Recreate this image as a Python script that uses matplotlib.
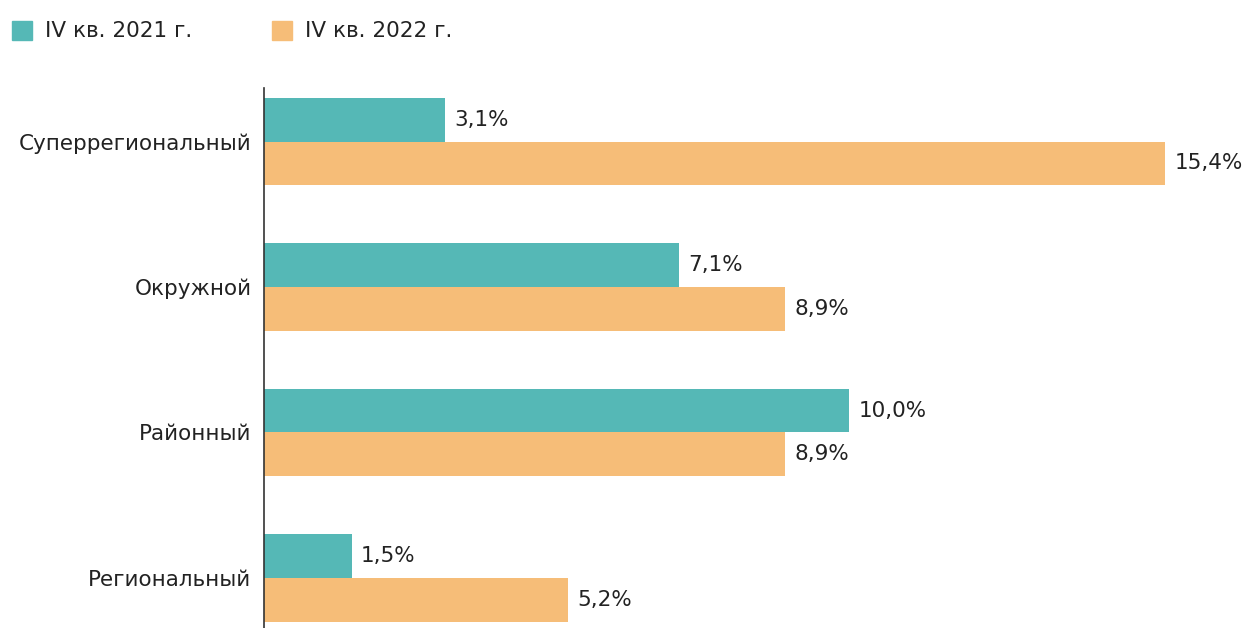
import matplotlib.pyplot as plt
import numpy as np

plt.rcParams['font.family'] = ['DejaVu Sans']

categories = ['Суперрегиональный', 'Окружной', 'Районный', 'Региональный']
q4_2021 = [3.1, 7.1, 10.0, 1.5]
q4_2022 = [15.4, 8.9, 8.9, 5.2]
series_names = ['IV кв. 2021 г.', 'IV кв. 2022 г.']

teal = '#55b8b6'
orange = '#f6bd78'
W, H = 1245, 628
FS = 15.5

fig = plt.figure(figsize=(W / 100, H / 100), dpi=100)
ax = fig.add_axes([264 / W, 0, 1 - 264 / W, (H - 88) / H])

y = np.arange(len(categories))
h = 0.3
ax.barh(y - h / 2, q4_2021, height=h, color=teal)
ax.barh(y + h / 2, q4_2022, height=h, color=orange)

def fmt(v):
    return f'{v:.1f}'.replace('.', ',') + '%'

for yi, v in zip(y, q4_2021):
    ax.text(v + 0.16, yi - h / 2, fmt(v), va='center', ha='left', fontsize=FS, color='#222222')
for yi, v in zip(y, q4_2022):
    ax.text(v + 0.16, yi + h / 2, fmt(v), va='center', ha='left', fontsize=FS, color='#222222')

ax.set_xlim(0, (W - 264) / 58.5)
ax.set_ylim(3.344, -0.368)
ax.set_yticks(y)
ax.set_yticklabels(categories, fontsize=FS, color='#222222')
ax.tick_params(axis='y', length=0, pad=9)
ax.set_xticks([])
for s in ['top', 'right', 'bottom']:
    ax.spines[s].set_visible(False)
ax.spines['left'].set_color('#333333')
ax.spines['left'].set_linewidth(1.2)

# legend drawn by hand at the top left
for x0, name, c in [(12, series_names[0], teal), (272, series_names[1], orange)]:
    fig.patches.append(plt.Rectangle((x0 / W, 1 - 40 / H), 20 / W, 19 / H,
                                     transform=fig.transFigure, color=c))
    fig.text((x0 + 33) / W, 1 - 31 / H, name, va='center', ha='left',
             fontsize=FS, color='#222222')

fig.savefig('out.png', dpi=100)
